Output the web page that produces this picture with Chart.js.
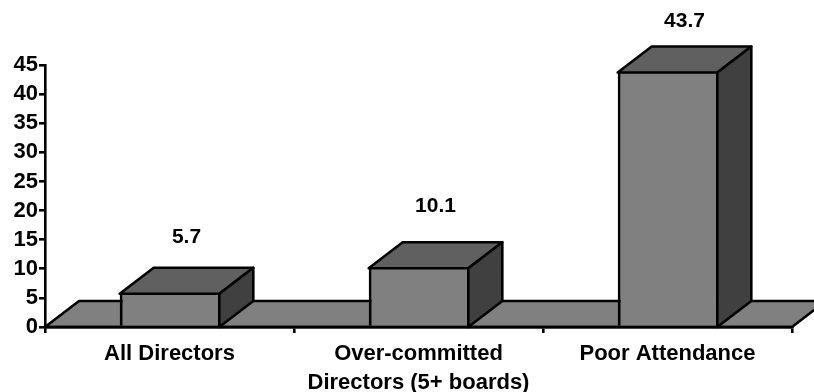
<!DOCTYPE html>
<html lang="en">
<head>
    <meta charset="UTF-8">
    <title>Director attendance</title>
    <style>
        html, body { margin: 0; padding: 0; background: #fff; }
        canvas { display: block; }
    </style>
</head>
<body>
    <canvas id="bar-graph" width="814" height="392"></canvas>
    <script src="https://cdn.jsdelivr.net/npm/chart.js"></script>
    <script>
        const categories = ["All Directors", ["Over-committed", "Directors (5+ boards)"], "Poor Attendance"];
        const values = [5.7, 10.1, 43.7];
        const yTicks = [0, 5, 10, 15, 20, 25, 30, 35, 40, 45];

        // depth of the fake 3D extrusion, in pixels
        const DEPTH_X = 34;
        const DEPTH_Y = 26;
        // how far each value label sits above its bar
        const LABEL_LIFT = [57, 62, 51];

        const FONT = "'Liberation Sans', Arial, sans-serif";
        const LINE = 2.6;

        const face = (ctx, points, fill) => {
            ctx.beginPath();
            points.forEach(([x, y], i) => i ? ctx.lineTo(x, y) : ctx.moveTo(x, y));
            ctx.closePath();
            ctx.fillStyle = fill;
            ctx.fill();
            ctx.stroke();
        };

        const box3d = {
            id: 'box3d',
            // floor under the bars
            beforeDatasetsDraw(chart) {
                const { ctx, chartArea: { left, right, bottom } } = chart;
                ctx.save();
                ctx.strokeStyle = '#000';
                ctx.lineWidth = LINE;
                ctx.lineJoin = 'round';
                face(ctx, [
                    [left, bottom],
                    [left + DEPTH_X, bottom - DEPTH_Y],
                    [right + DEPTH_X, bottom - DEPTH_Y],
                    [right, bottom]
                ], '#808080');
                ctx.restore();
            },
            // top and side faces, then the value labels
            afterDatasetsDraw(chart) {
                const { ctx, chartArea: { left, right, bottom } } = chart;
                ctx.save();
                ctx.strokeStyle = '#000';
                ctx.lineWidth = LINE;
                ctx.lineJoin = 'round';
                chart.getDatasetMeta(0).data.forEach((bar, i) => {
                    const l = bar.x - bar.width / 2;
                    const r = bar.x + bar.width / 2;
                    face(ctx, [
                        [l, bar.y],
                        [l + DEPTH_X, bar.y - DEPTH_Y],
                        [r + DEPTH_X, bar.y - DEPTH_Y],
                        [r, bar.y]
                    ], '#606060');
                    face(ctx, [
                        [r, bar.y],
                        [r + DEPTH_X, bar.y - DEPTH_Y],
                        [r + DEPTH_X, bottom - DEPTH_Y],
                        [r, bottom]
                    ], '#404040');

                    ctx.fillStyle = '#000';
                    ctx.font = "bold 21px " + FONT;
                    ctx.textAlign = 'center';
                    ctx.textBaseline = 'middle';
                    ctx.fillText(values[i].toFixed(1), bar.x + DEPTH_X / 2, bar.y - LABEL_LIFT[i]);
                });

                // base line back on top of the bars
                ctx.beginPath();
                ctx.moveTo(left, bottom);
                ctx.lineTo(right, bottom);
                ctx.stroke();
                ctx.restore();
            }
        };

        new Chart(document.getElementById('bar-graph'), {
            type: 'bar',
            data: {
                labels: categories,
                datasets: [{
                    data: values,
                    backgroundColor: '#808080',
                    borderColor: '#000',
                    // top and right edges come from the 3D faces
                    borderWidth: { left: 3, right: 0, top: 0, bottom: 0 },
                    borderSkipped: false,
                    barPercentage: 0.4,
                    categoryPercentage: 1
                }]
            },
            plugins: [box3d],
            options: {
                responsive: false,
                animation: false,
                layout: { padding: { top: 65, right: 22, left: 0, bottom: 0 } },
                plugins: { legend: { display: false }, tooltip: { enabled: false } },
                scales: {
                    x: {
                        afterFit: (scale) => { scale.height = 65; },
                        grid: { drawOnChartArea: false, color: '#000', lineWidth: LINE, tickLength: 6 },
                        border: { color: '#000', width: LINE },
                        ticks: {
                            color: '#000',
                            maxRotation: 0,
                            padding: 6,
                            font: { family: FONT, size: 22, weight: 'bold', lineHeight: 1.32 }
                        }
                    },
                    y: {
                        min: 0,
                        max: 45,
                        afterFit: (scale) => { scale.width = 45; },
                        afterBuildTicks: (scale) => { scale.ticks = yTicks.map(v => ({ value: v })); },
                        grid: { drawOnChartArea: false, color: '#000', lineWidth: LINE, tickLength: 6 },
                        border: { color: '#000', width: LINE },
                        ticks: {
                            color: '#000',
                            padding: 1,
                            autoSkip: false,
                            font: { family: FONT, size: 22, weight: 'bold' }
                        }
                    }
                }
            }
        });
    </script>
</body>
</html>
